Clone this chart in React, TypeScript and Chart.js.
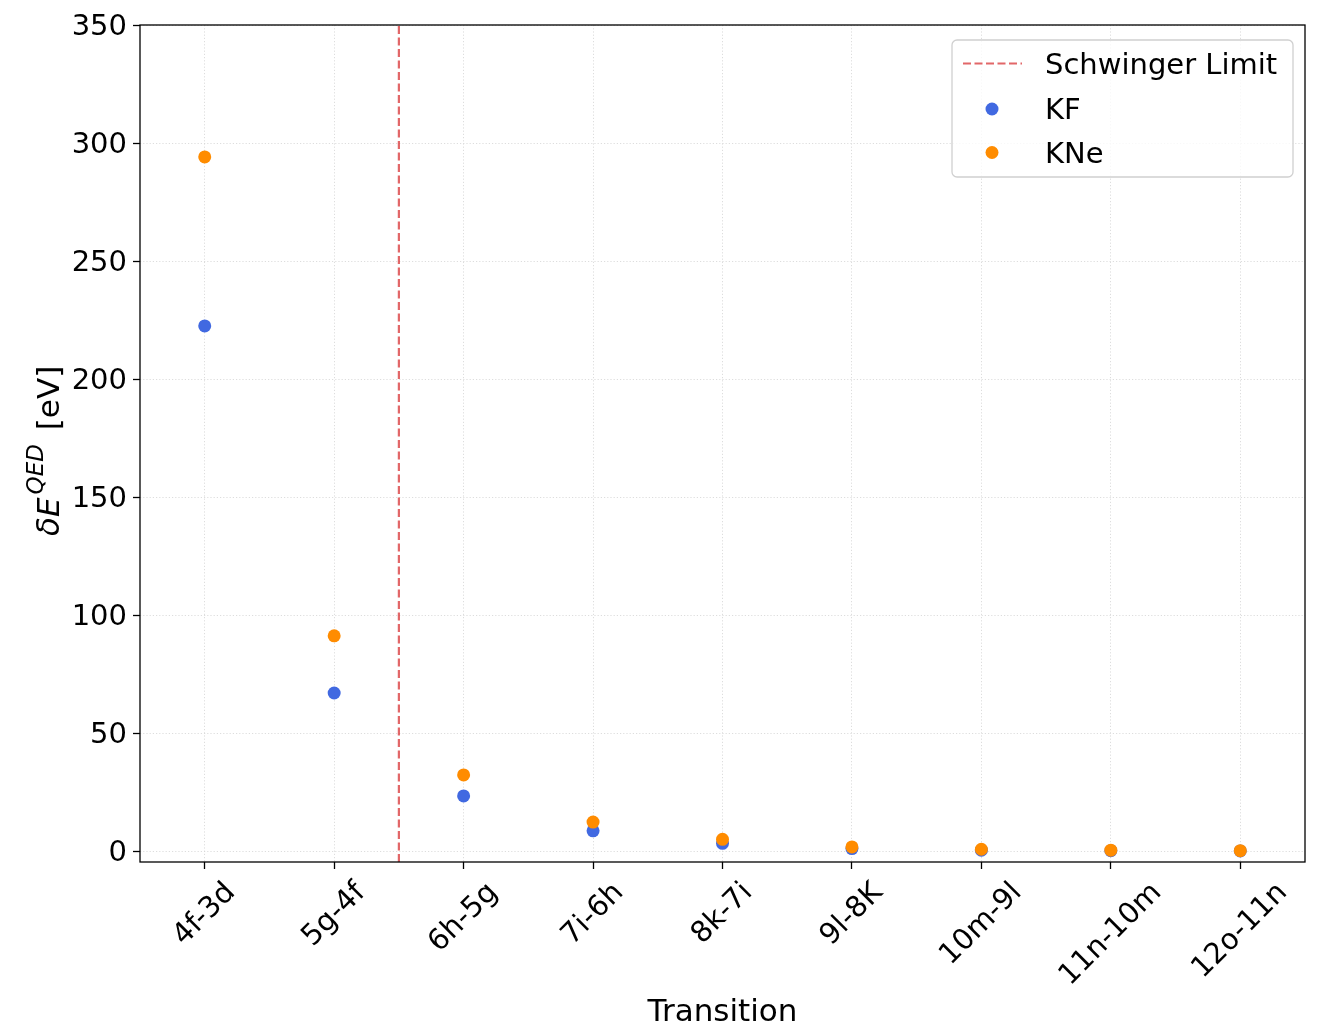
import { useEffect, useRef } from 'react';
import { Chart, registerables } from 'chart.js';

Chart.register(...registerables);

// ---- Data ----
const categories: string[] = ['4f-3d', '5g-4f', '6h-5g', '7i-6h', '8k-7i', '9l-8K', '10m-9l', '11n-10m', '12o-11n'];
const kfValues: number[] = [222.5, 67.0, 23.4, 8.6, 3.3, 1.1, 0.4, 0.2, 0.1];
const kneValues: number[] = [294.1, 91.2, 32.3, 12.3, 5.0, 1.8, 0.8, 0.4, 0.2];
const schwingerX: number[] = [1.5];
const yTicks: number[] = [0, 50, 100, 150, 200, 250, 300, 350];
const yMin = -4.6;
const yMax = 350;
const seriesLabels = ['Schwinger Limit', 'KF', 'KNe'];
const xTitle = 'Transition';

const FONT = '"DejaVu Sans", sans-serif';
const TICK_PX = 29;
const LABEL_PX = 31;

const overlayPlugin = {
  id: 'overlay',
  afterDraw(chart: any) {
    const { ctx, chartArea: a, scales } = chart;
    ctx.save();

    // frame
    ctx.strokeStyle = '#000';
    ctx.lineWidth = 1.3;
    ctx.setLineDash([]);
    ctx.strokeRect(a.left, a.top, a.right - a.left, a.bottom - a.top);

    // x tick labels (rotated 45, centred under tick like matplotlib)
    ctx.fillStyle = '#000';
    ctx.font = `${TICK_PX}px ${FONT}`;
    categories.forEach((c, i) => {
      const x = scales.x.getPixelForValue(i);
      const w = ctx.measureText(c).width;
      const bb = (w + TICK_PX * 1.0) * Math.SQRT1_2;
      ctx.save();
      ctx.translate(x, a.bottom + 16 + bb / 2);
      ctx.rotate(-Math.PI / 4);
      ctx.textAlign = 'center';
      ctx.textBaseline = 'middle';
      ctx.fillText(c, 0, 0);
      ctx.restore();
    });

    // x title
    ctx.font = `${LABEL_PX}px ${FONT}`;
    ctx.textAlign = 'center';
    ctx.textBaseline = 'alphabetic';
    ctx.fillText(xTitle, (a.left + a.right) / 2, 1021);

    // y title: δE^{QED} [eV]
    ctx.save();
    ctx.translate(59, 536);
    ctx.rotate(-Math.PI / 2);
    ctx.textAlign = 'left';
    ctx.textBaseline = 'alphabetic';
    let px = 0;
    ctx.font = `italic ${LABEL_PX}px ${FONT}`;
    ctx.fillText('δE', px, 0);
    px += ctx.measureText('δE').width + 3;
    ctx.font = `italic 23px ${FONT}`;
    ctx.fillText('QED', px, -16);
    px += ctx.measureText('QED').width + 4;
    ctx.font = `${LABEL_PX}px ${FONT}`;
    ctx.fillText(' [eV]', px, 0);
    ctx.restore();

    // legend
    const lx = 952, ly = 40, lw = 341, lh = 137, r = 5;
    ctx.beginPath();
    ctx.moveTo(lx + r, ly);
    ctx.arcTo(lx + lw, ly, lx + lw, ly + lh, r);
    ctx.arcTo(lx + lw, ly + lh, lx, ly + lh, r);
    ctx.arcTo(lx, ly + lh, lx, ly, r);
    ctx.arcTo(lx, ly, lx + lw, ly, r);
    ctx.closePath();
    ctx.fillStyle = 'rgba(255,255,255,0.8)';
    ctx.fill();
    ctx.strokeStyle = '#d0d0d0';
    ctx.lineWidth = 1.3;
    ctx.stroke();

    const ds = chart.data.datasets;
    const rows = [63.5, 109, 152.5];
    ds.forEach((d: any, i: number) => {
      const cy = rows[i];
      if (d.type === 'line') {
        ctx.save();
        ctx.strokeStyle = d.borderColor;
        ctx.lineWidth = d.borderWidth;
        ctx.setLineDash(d.borderDash);
        ctx.beginPath();
        ctx.moveTo(963, cy);
        ctx.lineTo(1022, cy);
        ctx.stroke();
        ctx.restore();
      } else {
        ctx.beginPath();
        ctx.arc(992, cy, d.pointRadius, 0, Math.PI * 2);
        ctx.fillStyle = d.backgroundColor;
        ctx.fill();
      }
      ctx.fillStyle = '#000';
      ctx.font = `${TICK_PX}px ${FONT}`;
      ctx.textAlign = 'left';
      ctx.textBaseline = 'alphabetic';
      ctx.fillText(d.label, 1045, cy + 10);
    });

    ctx.restore();
  },
};

export default function App() {
  const ref = useRef<HTMLCanvasElement | null>(null);

  useEffect(() => {
    if (!ref.current) return;
    const gridCommon = {
      color: '#d4d4d4',
      lineWidth: 0.8,
      drawTicks: true,
      tickLength: 7,
      tickColor: '#000',
      tickWidth: 1.3,
      tickBorderDash: [],
    };
    const chart = new Chart(ref.current, {
      type: 'scatter',
      data: {
        datasets: [
          {
            type: 'line',
            label: seriesLabels[0],
            data: [
              { x: schwingerX[0], y: yMin },
              { x: schwingerX[0], y: yMax },
            ],
            borderColor: 'rgba(214,39,40,0.7)',
            borderWidth: 2.2,
            borderDash: [8, 3.5],
            pointRadius: 0,
            fill: false,
            order: 2,
          } as any,
          {
            type: 'scatter',
            label: seriesLabels[1],
            data: kfValues.map((v, i) => ({ x: i, y: v })),
            backgroundColor: '#4169e1',
            pointBackgroundColor: '#4169e1',
            borderWidth: 0,
            pointBorderWidth: 0,
            pointRadius: 6.5,
            order: 1,
          } as any,
          {
            type: 'scatter',
            label: seriesLabels[2],
            data: kneValues.map((v, i) => ({ x: i, y: v })),
            backgroundColor: '#ff8c00',
            pointBackgroundColor: '#ff8c00',
            borderWidth: 0,
            pointBorderWidth: 0,
            pointRadius: 6.5,
            order: 0,
          } as any,
        ],
      },
      options: {
        animation: false,
        responsive: false,
        maintainAspectRatio: false,
        devicePixelRatio: 1,
        events: [],
        layout: { padding: { top: 25, right: 17, left: 0, bottom: 0 } },
        plugins: {
          legend: { display: false },
          tooltip: { enabled: false },
          title: { display: false },
        },
        scales: {
          x: {
            type: 'linear',
            min: -0.5,
            max: 8.5,
            afterBuildTicks: (s: any) => {
              s.ticks = categories.map((_, i) => ({ value: i }));
            },
            afterFit: (s: any) => {
              s.height = 163;
            },
            ticks: { display: false },
            grid: { ...gridCommon },
            border: { display: false, dash: [1.2, 2] },
          },
          y: {
            type: 'linear',
            min: yMin,
            max: yMax,
            afterBuildTicks: (s: any) => {
              s.ticks = yTicks.map((v) => ({ value: v }));
            },
            afterFit: (s: any) => {
              s.width = 140;
            },
            ticks: {
              color: '#000',
              font: { family: FONT, size: TICK_PX },
              padding: 6,
              labelOffset: 2,
              autoSkip: false,
            },
            grid: { ...gridCommon },
            border: { display: false, dash: [1.2, 2] },
          },
        },
      } as any,
      plugins: [overlayPlugin],
    });
    return () => chart.destroy();
  }, []);

  return (
    <div style={{ position: 'fixed', left: 0, top: 0, width: 1322, height: 1025, background: '#fff' }}>
      <canvas ref={ref} width={1322} height={1025} style={{ width: 1322, height: 1025, display: 'block' }} />
    </div>
  );
}
